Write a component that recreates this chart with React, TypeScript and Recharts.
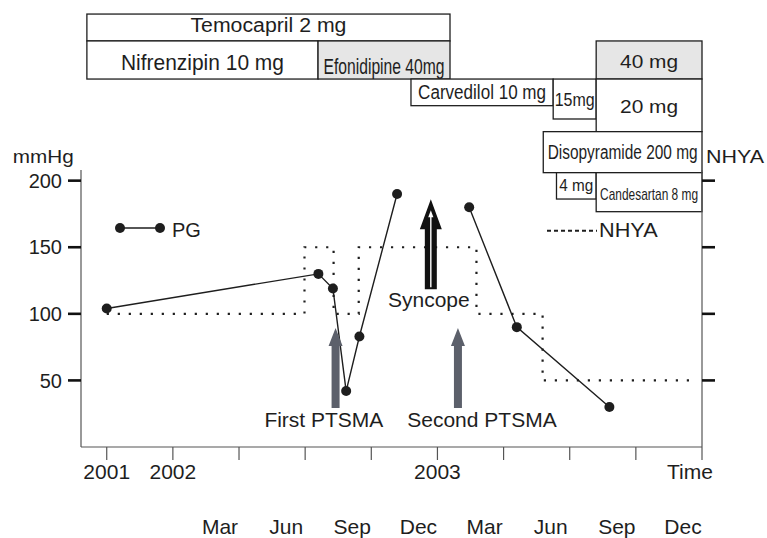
import React from 'react';
import {
  ComposedChart,
  Line,
  XAxis,
  YAxis,
  ReferenceArea,
  ReferenceDot,
  Legend,
} from 'recharts';

const FONT = '"Liberation Sans", Arial, Helvetica, sans-serif';
const INK = '#1e1e1e';

// time axis: 0 = 2001, 1 = 2002, then one unit per quarter up to the end of 2003
const xTicks = [0, 1, 2, 3, 4, 5, 6, 7, 8, 9];
const yearLabels = ['2001', '2002', '', '', '', '2003', '', '', '', 'Time'];
const monthLabels = ['', '', 'Mar', 'Jun', 'Sep', 'Dec', 'Mar', 'Jun', 'Sep', 'Dec'];
const mmHgTicks = [50, 100, 150, 200];
const nhyaTicks = [1, 2, 3, 4];

// pressure gradient (mmHg), before and after the syncope episode
const pgBefore = [
  { t: 0, pg: 104 },
  { t: 3.2, pg: 130 },
  { t: 3.42, pg: 119 },
  { t: 3.62, pg: 42 },
  { t: 3.82, pg: 83 },
  { t: 4.39, pg: 190 },
];
const pgAfter = [
  { t: 5.48, pg: 180 },
  { t: 6.2, pg: 90 },
  { t: 7.6, pg: 30 },
];

// NHYA class
const nhya = [
  { t: 0, nhya: 2 },
  { t: 2.99, nhya: 3 },
  { t: 3.43, nhya: 2 },
  { t: 3.81, nhya: 3 },
  { t: 5.59, nhya: 2 },
  { t: 6.59, nhya: 1 },
  { t: 8.92, nhya: 1 },
];

// medication periods
const drugNames = [
  'Temocapril 2 mg',
  'Nifrenzipin 10 mg',
  'Efonidipine 40mg',
  'Carvedilol 10 mg',
  '15mg',
  '40 mg',
  '20 mg',
  'Disopyramide 200 mg',
  '4 mg',
  'Candesartan 8 mg',
];
const drugStart = [-0.3, -0.3, 3.195, 4.6, 6.75, 7.4, 7.4, 6.6, 6.8, 7.4];
const drugEnd = [5.19, 3.195, 5.19, 6.75, 7.4, 9, 9, 9, 7.4, 9];

// events
const ptsmaNames = ['First PTSMA', 'Second PTSMA'];
const ptsmaTimes = [3.46, 5.31];
const syncopeTime = 4.9;

// layout of the medication boxes above the plot (in mmHg-axis units)
const drugBand = [
  [304.9, 325.1],
  [276.3, 304.9],
  [276.3, 304.9],
  [256.3, 276.3],
  [246.3, 276.3],
  [276.3, 304.9],
  [236.8, 276.3],
  [206.0, 236.8],
  [186.2, 206.0],
  [176.7, 206.0],
];
const drugText = [
  { fs: 20, len: 156, dy: 18.3 },
  { fs: 22, len: 163, dy: 29 },
  { fs: 22.5, len: 121, dy: 33 },
  { fs: 19.5, len: 128, dy: 19.5 },
  { fs: 18.5, len: 40, dy: 27 },
  { fs: 19, len: 58, dy: 26.6 },
  { fs: 19, len: 58, dy: 34.3 },
  { fs: 20, len: 150, dy: 27.6 },
  { fs: 16.5, len: 34, dy: 18.3 },
  { fs: 17, len: 98, dy: 27.3 },
];
const shadedDrugs = [2, 5];

function DrugBox(props: any) {
  const { x, y, width, height, index } = props;
  const st = drugText[index];
  return (
    <g>
      <rect
        x={x}
        y={y}
        width={width}
        height={height}
        fill={shadedDrugs.includes(index) ? '#e6e6e6' : '#fff'}
        stroke={INK}
        strokeWidth={1.3}
      />
      <text
        x={x + width / 2}
        y={y + st.dy}
        textAnchor="middle"
        fontFamily={FONT}
        fontSize={st.fs}
        fill={INK}
        textLength={st.len}
        lengthAdjust="spacingAndGlyphs"
      >
        {drugNames[index]}
      </text>
    </g>
  );
}

function XTick(props: any) {
  const { x, y, payload } = props;
  const i = xTicks.indexOf(payload.value);
  const year = yearLabels[i];
  const month = monthLabels[i];
  return (
    <g fontFamily={FONT} fill={INK}>
      {year && (
        <text x={x + (year === 'Time' ? -12 : 0)} y={y + 19} textAnchor="middle" fontSize={21}>
          {year}
        </text>
      )}
      {month && (
        <text x={x - 19} y={y + 73.5} textAnchor="middle" fontSize={21}>
          {month}
        </text>
      )}
    </g>
  );
}

function YTick(props: any) {
  const { x, y, payload } = props;
  return (
    <text x={x} y={y + 7.2} textAnchor="end" fontFamily={FONT} fontSize={20} fill={INK}>
      {payload.value}
    </text>
  );
}

function NoTick() {
  return null;
}

function GrayArrow(props: any) {
  const { cx, cy, name, dx } = props;
  const pts = [
    [cx, cy],
    [cx + 7, cy + 18],
    [cx + 4, cy + 18],
    [cx + 4, cy + 80],
    [cx - 4, cy + 80],
    [cx - 4, cy + 18],
    [cx - 7, cy + 18],
  ]
    .map((p) => p.join(','))
    .join(' ');
  return (
    <g>
      <polygon points={pts} fill="#5c606b" />
      <text x={cx + dx} y={cy + 99.3} textAnchor="middle" fontFamily={FONT} fontSize={21} fill={INK}>
        {name}
      </text>
    </g>
  );
}

function SyncopeArrow(props: any) {
  const { cx, cy } = props;
  const pts = [
    [cx, cy],
    [cx + 11, cy + 30],
    [cx + 6, cy + 30],
    [cx + 6, cy + 90],
    [cx - 6, cy + 90],
    [cx - 6, cy + 30],
    [cx - 11, cy + 30],
  ]
    .map((p) => p.join(','))
    .join(' ');
  return (
    <g>
      <polygon points={pts} fill="#111" />
      <line x1={cx} y1={cy + 88} x2={cx} y2={cy + 16} stroke="#fff" strokeWidth={1.4} />
      <polygon points={`${cx},${cy + 11} ${cx - 2.6},${cy + 18} ${cx + 2.6},${cy + 18}`} fill="#fff" />
      <text x={cx - 2} y={cy + 107.4} textAnchor="middle" fontFamily={FONT} fontSize={21} fill={INK}>
        Syncope
      </text>
    </g>
  );
}

function LegendBox() {
  return (
    <svg width={767} height={538} style={{ display: 'block', overflow: 'visible' }}>
      <line x1={120} y1={228} x2={160} y2={228} stroke={INK} strokeWidth={1.4} />
      <circle cx={120} cy={228} r={5} fill={INK} />
      <circle cx={160} cy={228} r={5} fill={INK} />
      <text x={172} y={237.3} fontFamily={FONT} fontSize={20} fill={INK}>
        PG
      </text>
      <line x1={547} y1={230.7} x2={597} y2={230.7} stroke={INK} strokeWidth={2} strokeDasharray="4 3" />
      <text
        x={599}
        y={236.7}
        fontFamily={FONT}
        fontSize={21}
        fill={INK}
        textLength={58.7}
        lengthAdjust="spacingAndGlyphs"
      >
        NHYA
      </text>
    </svg>
  );
}

export default function App() {
  return (
    <div style={{ position: 'absolute', left: 0, top: 0, width: 767, height: 538, background: '#fff' }}>
      <ComposedChart width={767} height={538} margin={{ top: 170, right: 0, bottom: 0, left: 0 }}>
        <XAxis
          type="number"
          dataKey="t"
          domain={[-0.389, 9]}
          allowDataOverflow
          ticks={xTicks}
          interval={0}
          height={91}
          tickSize={13}
          tickMargin={0}
          axisLine={{ stroke: '#555', strokeWidth: 1.2 }}
          tickLine={{ stroke: '#555', strokeWidth: 1.2 }}
          tick={<XTick />}
        />
        <YAxis
          yAxisId="mm"
          type="number"
          domain={[0, 208]}
          allowDataOverflow
          ticks={mmHgTicks}
          interval={0}
          width={81}
          tickSize={13}
          tickMargin={6}
          axisLine={{ stroke: '#555', strokeWidth: 1.2 }}
          tickLine={{ stroke: '#111', strokeWidth: 2.6 }}
          tick={<YTick />}
          label={{
            content: (p: any) => (
              <text
                x={p.viewBox.x + 12.7}
                y={p.viewBox.y - 6.7}
                fontFamily={FONT}
                fontSize={17.5}
                fill={INK}
                textLength={61}
                lengthAdjust="spacingAndGlyphs"
              >
                mmHg
              </text>
            ),
          }}
        />
        <YAxis
          yAxisId="nhya"
          orientation="right"
          type="number"
          domain={[0, 4.16]}
          allowDataOverflow
          ticks={nhyaTicks}
          interval={0}
          width={65}
          tickSize={13}
          axisLine={{ stroke: '#555', strokeWidth: 1.2 }}
          tickLine={{ stroke: '#111', strokeWidth: 2.6 }}
          tick={<NoTick />}
          label={{
            content: (p: any) => (
              <text
                x={p.viewBox.x + 4}
                y={p.viewBox.y - 6.7}
                fontFamily={FONT}
                fontSize={19}
                fill={INK}
                textLength={58}
                lengthAdjust="spacingAndGlyphs"
              >
                NHYA
              </text>
            ),
          }}
        />
        <Legend
          verticalAlign="middle"
          align="center"
          layout="horizontal"
          wrapperStyle={{ left: 0, top: 0, width: 767, height: 538, pointerEvents: 'none' }}
          content={() => <LegendBox />}
        />

        {drugNames.map((name, i) => (
          <ReferenceArea
            key={name + i}
            yAxisId="mm"
            x1={drugStart[i]}
            x2={drugEnd[i]}
            y1={drugBand[i][0]}
            y2={drugBand[i][1]}
            ifOverflow="visible"
            shape={(p: any) => <DrugBox {...p} index={i} />}
          />
        ))}

        <Line
          yAxisId="nhya"
          data={nhya}
          dataKey="nhya"
          name="NHYA"
          type="stepAfter"
          stroke={INK}
          strokeWidth={2.2}
          strokeDasharray="2.2 8.8"
          dot={false}
          activeDot={false}
          isAnimationActive={false}
        />
        <Line
          yAxisId="mm"
          data={pgBefore}
          dataKey="pg"
          name="PG"
          type="linear"
          stroke={INK}
          strokeWidth={1.4}
          dot={{ r: 5, fill: INK, stroke: 'none' }}
          activeDot={false}
          isAnimationActive={false}
        />
        <Line
          yAxisId="mm"
          data={pgAfter}
          dataKey="pg"
          name="PG (after)"
          type="linear"
          stroke={INK}
          strokeWidth={1.4}
          dot={{ r: 5, fill: INK, stroke: 'none' }}
          activeDot={false}
          legendType="none"
          isAnimationActive={false}
        />

        {ptsmaNames.map((name, i) => (
          <ReferenceDot
            key={name}
            yAxisId="mm"
            x={ptsmaTimes[i]}
            y={89.4}
            ifOverflow="visible"
            shape={(p: any) => <GrayArrow {...p} name={name} dx={i === 0 ? -11.7 : 24} />}
          />
        ))}
        <ReferenceDot
          yAxisId="mm"
          x={syncopeTime}
          y={186}
          ifOverflow="visible"
          shape={(p: any) => <SyncopeArrow {...p} />}
        />
      </ComposedChart>
    </div>
  );
}
